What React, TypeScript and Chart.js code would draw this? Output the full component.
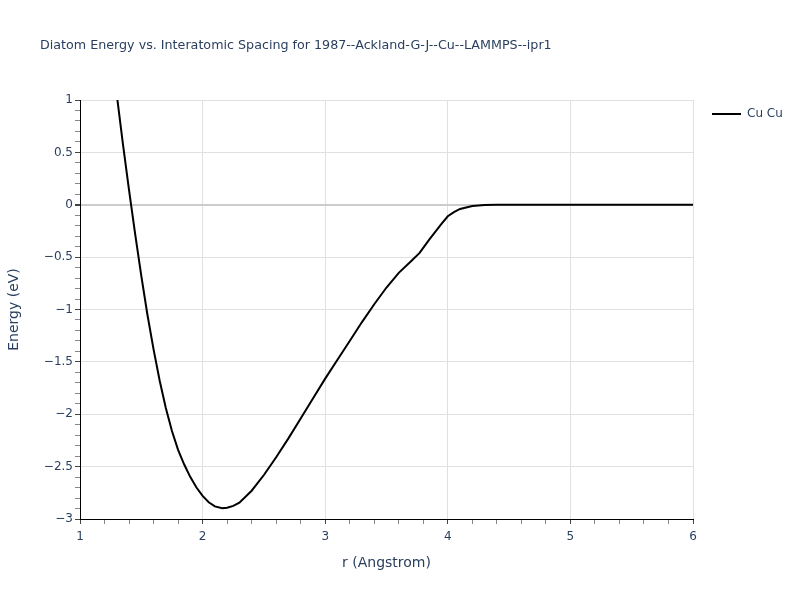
import React, { useEffect, useRef } from "react";
import { Chart, registerables } from "chart.js";

Chart.register(...registerables);

const chartTitle = "Diatom Energy vs. Interatomic Spacing for 1987--Ackland-G-J--Cu--LAMMPS--ipr1";
const seriesName = "Cu Cu";
const xTitle = "r (Angstrom)";
const yTitle = "Energy (eV)";

const rValues = [
  1.2, 1.3, 1.35, 1.4, 1.45, 1.5, 1.55, 1.6, 1.65, 1.7, 1.75, 1.8, 1.85, 1.9, 1.95, 2.0, 2.05, 2.1,
  2.16, 2.2, 2.25, 2.3, 2.4, 2.5, 2.6, 2.7, 2.8, 2.9, 3.0, 3.1, 3.2, 3.3, 3.4, 3.5, 3.6, 3.7,
  3.77, 3.85, 3.95, 4.0, 4.05, 4.1, 4.2, 4.3, 4.4, 4.6, 5.0, 5.5, 6.0,
];
const energyValues = [
  2.0, 1.05, 0.58, 0.14, -0.28, -0.68, -1.05, -1.38, -1.68, -1.94, -2.16, -2.34, -2.48, -2.6, -2.7, -2.78, -2.84, -2.88,
  -2.897, -2.893, -2.875, -2.845, -2.73, -2.58, -2.41, -2.23, -2.04, -1.85, -1.66, -1.48, -1.3, -1.12, -0.95, -0.79, -0.65, -0.54,
  -0.46, -0.33, -0.18, -0.11, -0.07, -0.04, -0.012, -0.003, 0, 0, 0, 0, 0,
];

const xMin = 1;
const xMax = 6;
const yMin = -3;
const yMax = 1;

const textColor = "#2a3f5f";
const fontFamily = "'DejaVu Sans', Verdana, sans-serif";

const isMult = (v: number, step: number) => Math.abs(v / step - Math.round(v / step)) < 1e-6;
const fmt = (v: number) => {
  const r = Math.round(v * 10) / 10;
  const s = String(Math.abs(r));
  return r < 0 ? "\u2212" + s : s;
};

const overlayPlugin = {
  id: "overlay",
  afterDraw(chart: any) {
    const ctx = chart.ctx;
    ctx.save();
    ctx.fillStyle = textColor;
    ctx.font = `12.7px ${fontFamily}`;
    ctx.textAlign = "left";
    ctx.textBaseline = "middle";
    ctx.fillText(chartTitle, 40, 46);
    // legend
    ctx.strokeStyle = "#000";
    ctx.lineWidth = 2;
    ctx.beginPath();
    ctx.moveTo(712, 114);
    ctx.lineTo(741, 114);
    ctx.stroke();
    ctx.font = `12px ${fontFamily}`;
    ctx.fillText(seriesName, 747, 114);
    ctx.restore();
  },
};

export default function App() {
  const ref = useRef<HTMLCanvasElement>(null);
  useEffect(() => {
    if (!ref.current) return;
    const data = rValues.map((r, i) => ({ x: r, y: energyValues[i] }));
    const chart = new Chart(ref.current, {
      type: "line",
      data: {
        datasets: [
          {
            label: seriesName,
            data,
            borderColor: "#000",
            borderWidth: 2,
            pointRadius: 0,
            tension: 0,
            fill: false,
          },
        ],
      },
      options: {
        responsive: false,
        animation: false,
        layout: { padding: { left: 0, right: 107, top: 100, bottom: 0 } },
        plugins: { legend: { display: false }, title: { display: false }, tooltip: { enabled: false } },
        scales: {
          x: {
            type: "linear",
            min: xMin,
            max: xMax,
            afterFit: (s: any) => {
              s.height = 81;
            },
            ticks: {
              stepSize: 0.2,
              autoSkip: false,
              maxTicksLimit: 1000,
              maxRotation: 0,
              padding: 6,
              color: textColor,
              font: { family: fontFamily, size: 12 },
              callback: (v: any) => (isMult(Number(v), 1) ? fmt(Number(v)) : ""),
            },
            grid: {
              color: (c: any) => (isMult(c.tick?.value ?? 0, 1) ? "#e0e0e0" : "rgba(0,0,0,0)"),
              tickColor: (c: any) => (isMult(c.tick?.value ?? 0, 1) ? "#444" : "#888"),
              tickLength: 5,
              lineWidth: 1,
            },
            border: { color: "#000", width: 1 },
            title: {
              display: true,
              text: xTitle,
              color: textColor,
              font: { family: fontFamily, size: 14 },
              padding: { top: 0, bottom: 28 },
            },
          },
          y: {
            type: "linear",
            min: yMin,
            max: yMax,
            afterFit: (s: any) => {
              s.width = 80;
            },
            ticks: {
              stepSize: 0.1,
              autoSkip: false,
              maxTicksLimit: 1000,
              padding: 2,
              color: textColor,
              font: { family: fontFamily, size: 12 },
              callback: (v: any) => (isMult(Number(v), 0.5) ? fmt(Number(v)) : ""),
            },
            grid: {
              color: (c: any) => {
                const v = c.tick?.value ?? 0;
                if (Math.abs(v) < 1e-6) return "#cccccc";
                return isMult(v, 0.5) ? "#e0e0e0" : "rgba(0,0,0,0)";
              },
              lineWidth: (c: any) => (Math.abs(c.tick?.value ?? 1) < 1e-6 ? 2 : 1),
              tickColor: (c: any) => (isMult(c.tick?.value ?? 0, 0.5) ? "#444" : "#888"),
              tickLength: 5,
            },
            border: { color: "#000", width: 1 },
            title: {
              display: true,
              text: yTitle,
              color: textColor,
              font: { family: fontFamily, size: 14 },
              padding: { top: 6, bottom: 0 },
            },
          },
        },
      },
      plugins: [overlayPlugin],
    });
    return () => chart.destroy();
  }, []);
  return (
    <div style={{ position: "fixed", left: 0, top: 0, width: 800, height: 600, background: "#fff" }}>
      <canvas ref={ref} width={800} height={600} />
    </div>
  );
}
